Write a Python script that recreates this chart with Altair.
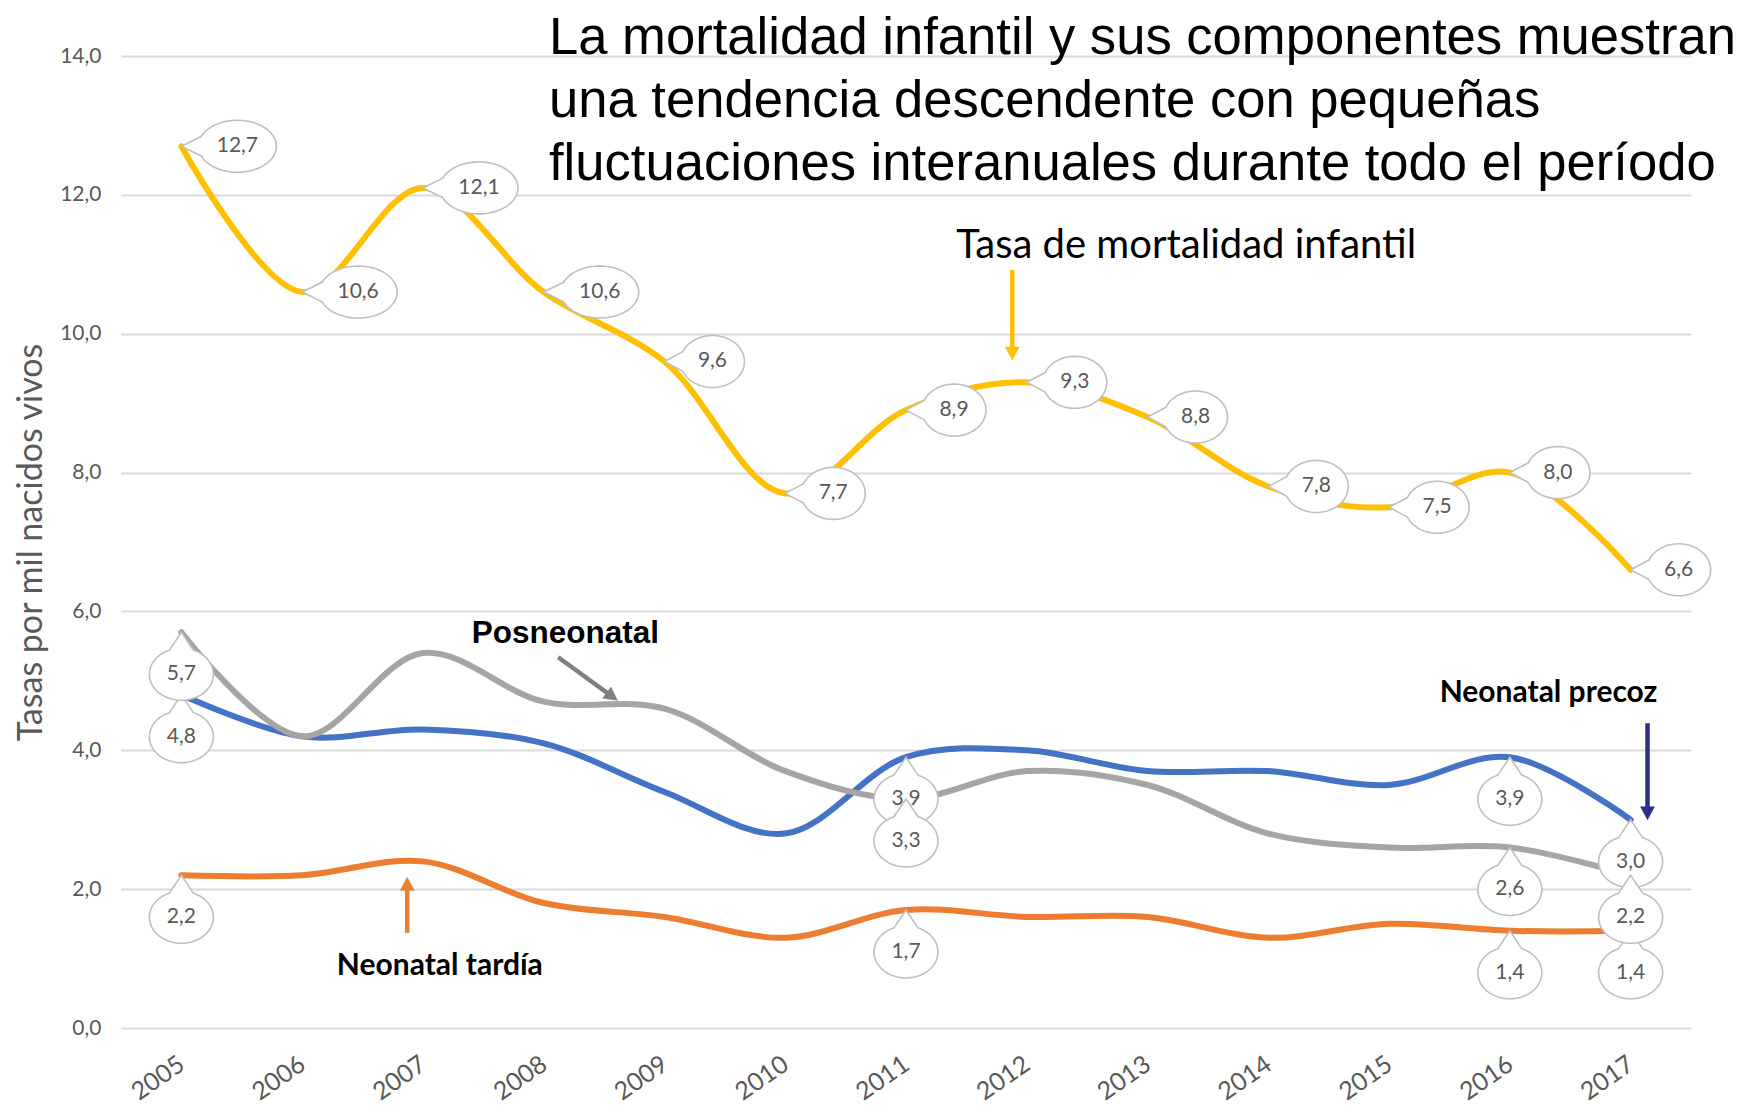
import math
import altair as alt
import pandas as pd

# ---------------- data ----------------
years = list(range(2005, 2018))
infantil = [12.7, 10.6, 12.1, 10.6, 9.6, 7.7, 8.9, 9.3, 8.8, 7.8, 7.5, 8.0, 6.6]
precoz = [4.8, 4.2, 4.3, 4.1, 3.4, 2.8, 3.9, 4.0, 3.7, 3.7, 3.5, 3.9, 3.0]
tardia = [2.2, 2.2, 2.4, 1.8, 1.6, 1.3, 1.7, 1.6, 1.6, 1.3, 1.5, 1.4, 1.4]
posneo = [5.7, 4.2, 5.4, 4.7, 4.6, 3.7, 3.3, 3.7, 3.5, 2.8, 2.6, 2.6, 2.2]

series_names = ["Neonatal tardía", "Neonatal precoz", "Posneonatal", "Tasa de mortalidad infantil"]
series_values = [tardia, precoz, posneo, infantil]
series_colors = ["#ED7D31", "#4472C4", "#A5A5A5", "#FFC000"]

callout_years_lower = [2005, 2011, 2016, 2017]

y_ticks = [0, 2, 4, 6, 8, 10, 12, 14]

title_lines = "La mortalidad infantil y sus componentes muestran\nuna tendencia descendente con pequeñas\nfluctuaciones interanuales durante todo el período"

# annotation texts
ann_text = ["Tasa de mortalidad infantil", "Posneonatal", "Neonatal tardía", "Neonatal precoz"]
ann_x = [2013.32, 2008.18, 2007.14, 2016.32]
ann_y = [11.09, 5.545, 0.76, 4.70]

# arrows: start -> tip
arr_x1 = [2011.88, 2008.12, 2006.87, 2017.14]
arr_y1 = [10.92, 5.34, 1.37, 4.39]
arr_x2 = [2011.88, 2008.61, 2006.87, 2017.14]
arr_y2 = [9.62, 4.72, 2.17, 3.00]
arr_colors = ["#FFC000", "#7F7F7F", "#ED7D31", "#2E2E8F"]

# ---------------- layout ----------------
PLOT_W, PLOT_H = 1570, 972
PX_PER_YEAR = PLOT_W / 13.0
PX_PER_UNIT = PLOT_H / 14.0

rows = []
for name, vals in zip(series_names, series_values):
    for yr, v in zip(years, vals):
        rows.append({"serie": name, "year": yr, "v": v})
df = pd.DataFrame(rows)
df["label"] = df["v"].map(lambda z: f"{z:.1f}".replace(".", ","))

X = alt.X(
    "year:Q",
    scale=alt.Scale(domain=[2004.5, 2017.5], nice=False, zero=False),
    axis=alt.Axis(
        values=years, format="d", labelAngle=-35, labelAlign="right", labelBaseline="middle",
        labelFontSize=25, labelColor="#595959", labelFont="Lato", labelPadding=33,
        ticks=False, domain=False, grid=False, title=None, labelFlush=False, labelOverlap=False,
    ),
)
Y = alt.Y(
    "v:Q",
    scale=alt.Scale(domain=[0, 14], nice=False),
    axis=alt.Axis(
        values=y_ticks, labelExpr="replace(format(datum.value, '.1f'), '.', ',')",
        labelFontSize=21, labelColor="#595959", labelFont="Lato", labelPadding=20,
        ticks=False, domain=False, grid=True, gridColor="#D9D9D9", gridWidth=2,
        title="Tasas por mil nacidos vivos", titleFont="Lato", titleFontSize=34,
        titleFontWeight="normal", titleColor="#595959", titleAngle=-90,
        titleX=-90, titleY=PLOT_H / 2, titleAlign="center", titleBaseline="middle",
    ),
)


def bubble_path(cx, cy, rx, ry, t0, t1, n=72):
    pts = ["M0,0"]
    for i in range(n + 1):
        t = math.radians(t0 + (t1 - t0) * i / n)
        pts.append(f"L{cx + rx * math.cos(t):.2f},{cy + ry * math.sin(t):.2f}")
    return " ".join(pts) + " Z"


A = 22
shape_left_narrow = bubble_path(48, 0, 32, 26, 180 + A, 540 - A)
shape_left_wide = bubble_path(56, 0, 39, 26, 180 + A, 540 - A)
shape_down = bubble_path(0, 42, 32, 26, -90 + A, 270 - A)
arrow_head = "M0,0 L-7,-13 L7,-13 Z"

layers = []
# lines
for name, col in zip(series_names, series_colors):
    layers.append(
        alt.Chart(df).transform_filter(alt.datum.serie == name)
        .mark_line(interpolate="catmull-rom", strokeWidth=6, color=col, strokeCap="round")
        .encode(x=X, y=Y)
    )

bubble_style = dict(fill="white", stroke="#BFBFBF", strokeWidth=1.6, opacity=1, fillOpacity=1, size=4)
text_style = dict(font="Lato", fontSize=21, color="#595959", baseline="middle", align="center")

# lower callouts: orange, blue, gray
for name in series_names[:3]:
    sub = df[(df.serie == name) & (df.year.isin(callout_years_lower))]
    layers.append(alt.Chart(sub).mark_point(shape=shape_down, filled=True, **bubble_style).encode(x=X, y=Y))
    layers.append(alt.Chart(sub).mark_text(dy=42, **text_style).encode(x=X, y=Y, text="label:N"))

# yellow callouts
ysub = df[df.serie == series_names[3]]
wide = ysub[ysub.v >= 10]
narrow = ysub[ysub.v < 10]
layers.append(alt.Chart(wide).mark_point(shape=shape_left_wide, filled=True, **bubble_style).encode(x=X, y=Y))
layers.append(alt.Chart(wide).mark_text(dx=56, **text_style).encode(x=X, y=Y, text="label:N"))
layers.append(alt.Chart(narrow).mark_point(shape=shape_left_narrow, filled=True, **bubble_style).encode(x=X, y=Y))
layers.append(alt.Chart(narrow).mark_text(dx=48, **text_style).encode(x=X, y=Y, text="label:N"))

# arrows
HEAD = 12.0
arows = []
for x1, y1, x2, y2, c in zip(arr_x1, arr_y1, arr_x2, arr_y2, arr_colors):
    dxp = (x2 - x1) * PX_PER_YEAR
    dyp = -(y2 - y1) * PX_PER_UNIT
    L = math.hypot(dxp, dyp)
    ux, uy = dxp / L, dyp / L
    ex = x2 - ux * HEAD / PX_PER_YEAR
    ey = y2 + uy * HEAD / PX_PER_UNIT
    ang = math.degrees(math.atan2(-ux, uy)) % 360
    arows.append({"year": x1, "v": y1, "year2": ex, "v2": ey, "tx": x2, "ty": y2, "c": c, "ang": ang})
adf = pd.DataFrame(arows)
for _, r in adf.iterrows():
    one = pd.DataFrame([r.to_dict()])
    layers.append(
        alt.Chart(one).mark_rule(strokeWidth=4.5, color=r["c"])
        .encode(x=X, y=Y, x2="year2:Q", y2="v2:Q")
    )
    head = pd.DataFrame([{"year": r["tx"], "v": r["ty"]}])
    layers.append(
        alt.Chart(head).mark_point(shape=arrow_head, size=4, filled=True, fill=r["c"], stroke=r["c"],
                                   strokeWidth=0.5, opacity=1, angle=float(r["ang"]))
        .encode(x=X, y=Y)
    )

# annotation texts
ann_fonts = [("Lato", 40, "normal"), ("Liberation Sans", 31.5, "bold"), ("Lato", 30, "bold"), ("Lato", 30, "bold")]
for t, ax, ay, (fnt, fs, fw) in zip(ann_text, ann_x, ann_y, ann_fonts):
    one = pd.DataFrame([{"year": ax, "v": ay, "t": t}])
    layers.append(
        alt.Chart(one).mark_text(font=fnt, fontSize=fs, fontWeight=fw, color="black",
                                 align="center", baseline="alphabetic")
        .encode(x=X, y=Y, text="t:N")
    )

# headline
layers.append(
    alt.Chart(pd.DataFrame({"t": [title_lines]}))
    .mark_text(font="Liberation Sans", fontSize=52.6, lineHeight=63, color="black",
               align="left", baseline="alphabetic", lineBreak="\n")
    .encode(x=alt.value(428), y=alt.value(-2), text="t:N")
)

chart = (
    alt.layer(*layers)
    .properties(
        width=PLOT_W, height=PLOT_H,
        autosize=alt.AutoSizeParams(type="none"),
        padding={"left": 113, "top": 48, "right": 57, "bottom": 77},
        background="white",
    )
    .configure_view(strokeWidth=0)
)

chart.save("out.html", embed_options={"renderer": "svg", "actions": False})
